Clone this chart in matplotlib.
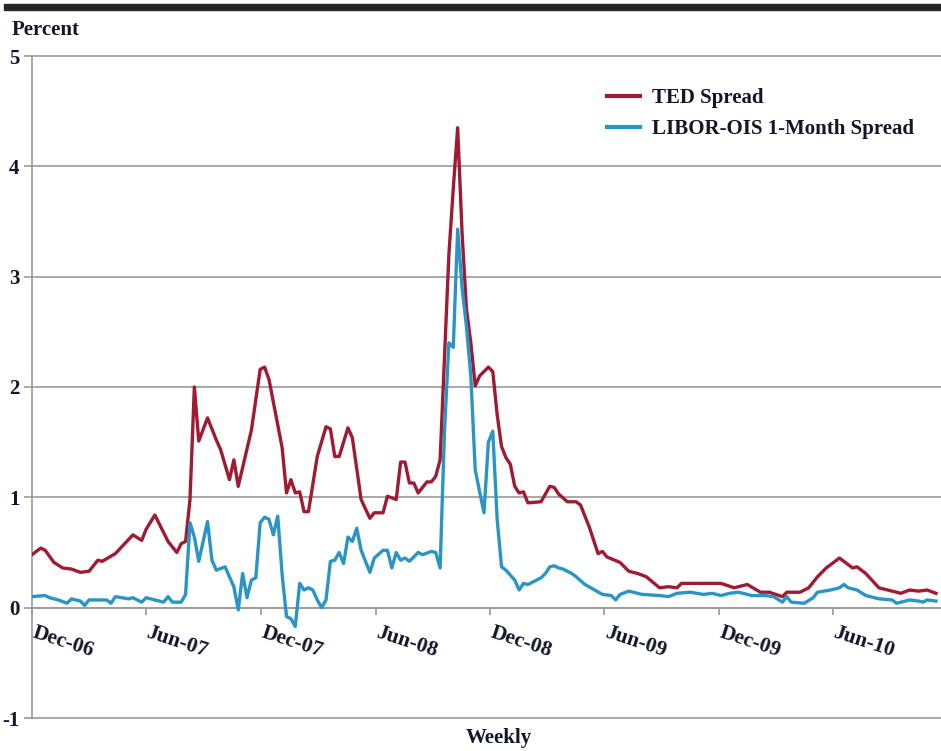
import numpy as np
import pandas as pd
import matplotlib
matplotlib.use('Agg')
import matplotlib.pyplot as plt
from matplotlib.patches import Rectangle
from matplotlib.transforms import ScaledTranslation

plt.rcParams['font.family'] = ['Liberation Serif', 'DejaVu Serif']
plt.rcParams['font.weight'] = 'bold'

# ---- data (weeks since 2006-12-01, percent) ----
start_date = '2006-12-01'
end_days = 1450

ted_weeks = [0, 2, 3, 5, 7, 9, 11, 13, 15, 16, 19, 23, 25, 26, 28, 31, 33, 34, 35, 36,
             37, 38, 40, 42, 43, 45, 46, 47, 50, 52, 53, 54, 57, 58, 59, 60, 61, 62, 63,
             65, 67, 68, 69, 70, 72, 73, 75, 77, 78, 80, 81, 83, 84, 85, 86, 87, 88, 90,
             91, 92, 93, 95, 96, 97, 98, 99, 100, 101, 102, 103, 104, 105, 106, 107, 108,
             109, 110, 111, 112, 113, 116, 118, 119, 120, 122, 124, 125, 127, 129, 130,
             131, 134, 136, 138, 140, 143, 145, 147, 148, 152, 157, 160, 163, 166, 168,
             171, 172, 175, 177, 179, 181, 184, 187, 188, 190, 193, 195, 198, 200, 202,
             204, 206]
ted_values = [0.48, 0.54, 0.52, 0.41, 0.36, 0.35, 0.32, 0.33, 0.43, 0.42, 0.49, 0.66, 0.61,
              0.71, 0.84, 0.60, 0.50, 0.58, 0.60, 0.98, 2.00, 1.51, 1.72, 1.52, 1.43, 1.16,
              1.34, 1.10, 1.61, 2.16, 2.18, 2.07, 1.45, 1.04, 1.16, 1.04, 1.05, 0.87, 0.87,
              1.37, 1.64, 1.62, 1.37, 1.37, 1.63, 1.54, 0.98, 0.81, 0.86, 0.86, 1.01, 0.98,
              1.32, 1.32, 1.13, 1.13, 1.04, 1.14, 1.14, 1.19, 1.34, 3.20, 3.80, 4.35, 3.40,
              2.71, 2.40, 2.01, 2.10, 2.14, 2.18, 2.14, 1.75, 1.46, 1.36, 1.30, 1.10, 1.04,
              1.05, 0.95, 0.96, 1.10, 1.09, 1.03, 0.96, 0.96, 0.93, 0.73, 0.49, 0.51, 0.46,
              0.41, 0.33, 0.31, 0.28, 0.18, 0.19, 0.18, 0.22, 0.22, 0.22, 0.18, 0.21, 0.14,
              0.14, 0.10, 0.14, 0.14, 0.18, 0.28, 0.36, 0.45, 0.36, 0.37, 0.31, 0.18, 0.16,
              0.13, 0.16, 0.15, 0.16, 0.13]

ois_weeks = [0, 3, 4, 6, 8, 9, 11, 12, 13, 17, 18, 19, 22, 23, 25, 26, 28, 30, 31, 32, 34,
             35, 36, 37, 38, 40, 41, 42, 44, 45, 46, 47, 48, 49, 50, 51, 52, 53, 54, 55, 56,
             57, 58, 59, 60, 61, 62, 63, 64, 65, 66, 67, 68, 69, 70, 71, 72, 73, 74, 75, 77,
             78, 80, 81, 82, 83, 84, 85, 86, 88, 89, 91, 92, 93, 94, 95, 96, 97, 98, 99,
             100, 101, 102, 103, 104, 105, 106, 107, 108, 110, 111, 112, 113, 115, 116,
             117, 118, 119, 120, 121, 123, 124, 126, 130, 132, 133, 134, 136, 139, 143,
             145, 147, 150, 153, 155, 157, 159, 161, 164, 167, 169, 171, 172, 173, 176,
             178, 179, 182, 184, 185, 186, 188, 190, 193, 196, 197, 200, 202, 203, 204, 206]
ois_values = [0.10, 0.11, 0.09, 0.07, 0.04, 0.08, 0.06, 0.02, 0.07, 0.07, 0.04, 0.10, 0.08,
              0.09, 0.05, 0.09, 0.07, 0.05, 0.10, 0.05, 0.05, 0.12, 0.77, 0.64, 0.42, 0.78,
              0.43, 0.34, 0.37, 0.28, 0.19, -0.02, 0.31, 0.09, 0.25, 0.27, 0.77, 0.82, 0.80,
              0.66, 0.83, 0.30, -0.08, -0.10, -0.17, 0.22, 0.16, 0.18, 0.16, 0.07, 0.00,
              0.07, 0.42, 0.43, 0.50, 0.40, 0.64, 0.60, 0.72, 0.52, 0.32, 0.45, 0.52, 0.52,
              0.36, 0.50, 0.43, 0.45, 0.42, 0.50, 0.48, 0.51, 0.50, 0.36, 1.60, 2.40, 2.36,
              3.43, 2.90, 2.55, 2.10, 1.25, 1.05, 0.86, 1.50, 1.60, 0.80, 0.37, 0.34, 0.25,
              0.16, 0.22, 0.21, 0.25, 0.27, 0.31, 0.37, 0.38, 0.36, 0.35, 0.31, 0.28, 0.21,
              0.12, 0.11, 0.07, 0.12, 0.15, 0.12, 0.11, 0.10, 0.13, 0.14, 0.12, 0.13, 0.11,
              0.13, 0.14, 0.11, 0.11, 0.10, 0.05, 0.10, 0.05, 0.04, 0.09, 0.14, 0.16, 0.18,
              0.21, 0.18, 0.16, 0.11, 0.08, 0.07, 0.04, 0.07, 0.06, 0.05, 0.07, 0.06]

tick_dates = ['2006-12-01', '2007-06-01', '2007-12-01', '2008-06-01',
              '2008-12-01', '2009-06-01', '2009-12-01', '2010-06-01']
tick_labels = ['Dec-06', 'Jun-07', 'Dec-07', 'Jun-08', 'Dec-08', 'Jun-09', 'Dec-09', 'Jun-10']
y_ticks = [-1, 0, 1, 2, 3, 4, 5]

series_names = ['TED Spread', 'LIBOR-OIS 1-Month Spread']
colors = ['#9E1B32', '#2A95C5']
text_color = '#15152a'
grid_color = '#9a9a9a'

start = pd.Timestamp(start_date)
ted_dates = start + pd.to_timedelta(np.array(ted_weeks) * 7, unit='D')
ois_dates = start + pd.to_timedelta(np.array(ois_weeks) * 7, unit='D')

fig = plt.figure(figsize=(9.41, 7.51), dpi=100)
ax = fig.add_axes([32 / 941, 1 - 718 / 751, 909 / 941, 662 / 751])

ax.set_ylim(-1, 5)
ax.set_xlim(start, start + pd.Timedelta(days=end_days))

for y in y_ticks:
    ax.axhline(y, color=grid_color, lw=1.2, zorder=1, clip_on=False)

ax.plot(ted_dates, ted_values, color=colors[0], lw=2.4, label=series_names[0], zorder=3)
ax.plot(ois_dates, ois_values, color=colors[1], lw=2.4, label=series_names[1], zorder=3)

for s in ['top', 'right']:
    ax.spines[s].set_visible(False)
ax.spines['left'].set_color(grid_color)
ax.spines['left'].set_linewidth(1.2)
ax.spines['bottom'].set_position(('data', 0))
ax.spines['bottom'].set_color(grid_color)
ax.spines['bottom'].set_linewidth(1.2)

ax.set_yticks(y_ticks)
ax.set_yticklabels([str(v) for v in y_ticks])
ax.tick_params(axis='y', direction='out', length=6, width=1.2, color=grid_color,
               pad=3, labelsize=15, labelcolor=text_color)

ax.set_xticks(pd.to_datetime(tick_dates))
ax.set_xticklabels(tick_labels, rotation=-18, ha='left', va='top', rotation_mode='anchor')
ax.tick_params(axis='x', direction='out', length=5, width=1.2, color=grid_color,
               pad=6, labelsize=15.5, labelcolor=text_color)
shift = ScaledTranslation(4 / 100, 0, fig.dpi_scale_trans)
for lab in ax.get_xticklabels():
    lab.set_transform(lab.get_transform() + shift)

leg = ax.legend(loc='upper left', bbox_to_anchor=(607 / 941, 1 - 88 / 751),
                bbox_transform=fig.transFigure, frameon=False, fontsize=15,
                handlelength=1.6, handletextpad=0.55, labelspacing=0.52,
                borderpad=0, borderaxespad=0)
for t in leg.get_texts():
    t.set_color(text_color)
for h in leg.get_lines():
    h.set_linewidth(3)

fig.text(12 / 941, 1 - 35 / 751, 'Percent', fontsize=15, color=text_color,
         ha='left', va='baseline', fontweight='bold')
fig.text(499 / 941, 1 - 738 / 751, 'Weekly', fontsize=15, color=text_color,
         ha='center', va='center', fontweight='bold')

fig.patches.append(Rectangle((4 / 941, 1 - 10 / 751), 937 / 941, 6 / 751,
                             transform=fig.transFigure, color='#262626', zorder=5))

fig.savefig('out.png', dpi=100)
